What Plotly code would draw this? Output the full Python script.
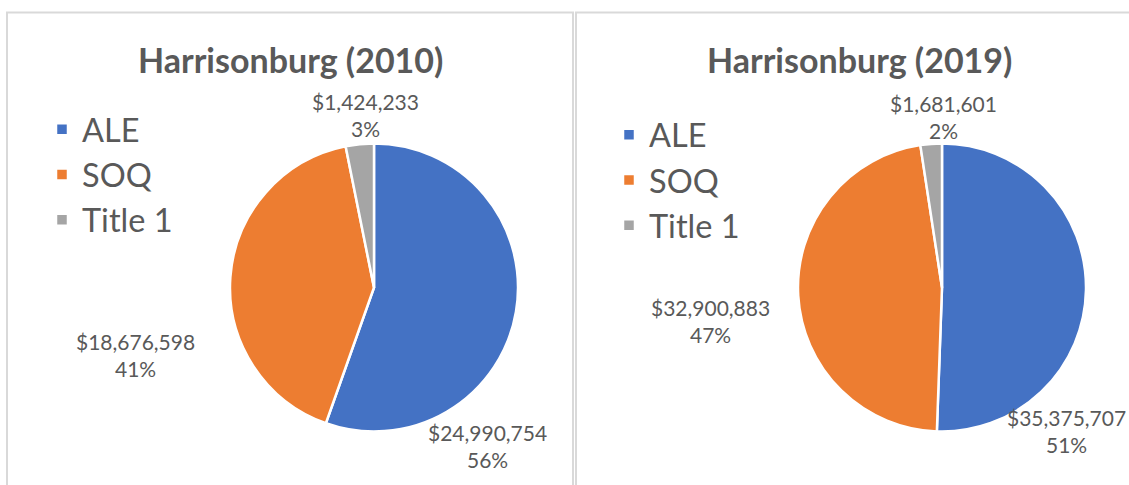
import plotly.graph_objects as go

# ---- data ----
categories = ["ALE", "SOQ", "Title 1"]
values_2010 = [24990754, 18676598, 1424233]
values_2019 = [35375707, 32900883, 1681601]
pct_2010 = ["56%", "41%", "3%"]
pct_2019 = ["51%", "47%", "2%"]
titles = ["Harrisonburg (2010)", "Harrisonburg (2019)"]
colors = ["#4472C4", "#ED7D31", "#A5A5A5"]

W, H = 1129, 485
FONT = "Lato"
TXT = "#595959"


def px(x):
    return x / W


def py(y):
    return 1 - y / H


def pie_domain(cx, cy, r):
    return dict(x=[px(cx - r), px(cx + r)], y=[py(cy + r), py(cy - r)])


fig = go.Figure()
fig.add_trace(go.Pie(
    labels=categories, values=values_2010, sort=False, direction="clockwise",
    rotation=0, marker=dict(colors=colors, line=dict(color="white", width=2.5)),
    textinfo="none", domain=pie_domain(374, 287.5, 144),
    legend="legend", legendgroup="y2010",
    hoverinfo="label+value+percent",
))
fig.add_trace(go.Pie(
    labels=categories, values=values_2019, sort=False, direction="clockwise",
    rotation=0, marker=dict(colors=colors, line=dict(color="white", width=2.5)),
    textinfo="none", domain=pie_domain(942, 287.5, 144),
    legend="legend2", legendgroup="y2019",
    hoverinfo="label+value+percent",
))

annotations = []
# titles
for t, cx in zip(titles, [290, 859]):
    annotations.append(dict(x=px(cx), y=py(59), xref="paper", yref="paper",
                            text=f"<b>{t}</b>", showarrow=False,
                            font=dict(family=FONT, size=34, color=TXT),
                            xanchor="center", yanchor="middle"))

# data labels (positions mirror the original best-fit placement)
label_pos_2010 = [(487, 446), (135, 355), (365, 114.5)]
label_pos_2019 = [(1066, 431), (710, 321), (943, 116.5)]
for vals, pcts, poss in [(values_2010, pct_2010, label_pos_2010),
                         (values_2019, pct_2019, label_pos_2019)]:
    for v, p, (x, y) in zip(vals, pcts, poss):
        annotations.append(dict(x=px(x), y=py(y), xref="paper", yref="paper",
                                text=f"${v:,.0f}<br>{p}", showarrow=False,
                                font=dict(family=FONT, size=21, color=TXT),
                                xanchor="center", yanchor="middle", align="center"))

shapes = [
    dict(type="rect", xref="paper", yref="paper", x0=px(7), x1=px(573), y0=py(500), y1=py(12.5),
         line=dict(color="#D9D9D9", width=2), fillcolor="rgba(0,0,0,0)"),
    dict(type="rect", xref="paper", yref="paper", x0=px(576), x1=px(1140), y0=py(500), y1=py(12.5),
         line=dict(color="#D9D9D9", width=2), fillcolor="rgba(0,0,0,0)"),
]

legend_common = dict(font=dict(family=FONT, size=32.5, color=TXT), bgcolor="rgba(0,0,0,0)",
                     xanchor="left", yanchor="top", tracegroupgap=0)

fig.update_layout(
    width=W, height=H, margin=dict(l=0, r=0, t=0, b=0),
    paper_bgcolor="white", plot_bgcolor="white",
    showlegend=True,
    legend=dict(x=px(42), y=py(101.5), **legend_common),
    legend2=dict(x=px(609), y=py(107), **legend_common),
    annotations=annotations, shapes=shapes,
)

fig.write_html("out.html", config={"displayModeBar": False},
               post_script="document.body.style.margin='0px';")
